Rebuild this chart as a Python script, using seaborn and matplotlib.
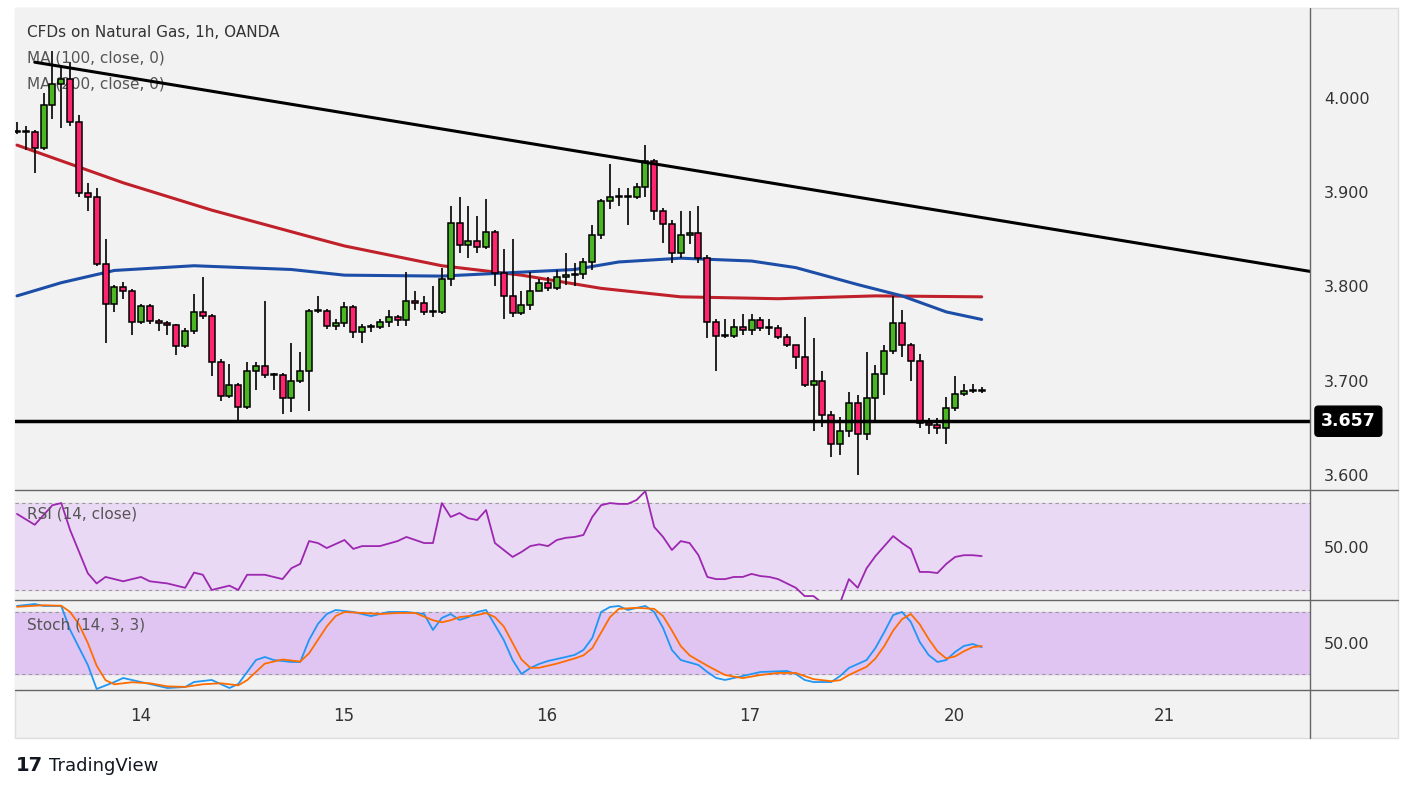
import numpy as np
import pandas as pd
import seaborn as sns
import matplotlib.pyplot as plt
from matplotlib.patches import Rectangle

# hourly candles (index 0..109)
closes = [3.964, 3.964, 3.947, 3.993, 4.015, 4.020, 3.975, 3.899, 3.895, 3.824,
          3.781, 3.799, 3.795, 3.762, 3.779, 3.763, 3.761, 3.759, 3.737, 3.753,
          3.773, 3.769, 3.720, 3.684, 3.695, 3.672, 3.710, 3.716, 3.706, 3.706,
          3.682, 3.700, 3.710, 3.774, 3.774, 3.758, 3.761, 3.778, 3.752, 3.757,
          3.757, 3.762, 3.768, 3.764, 3.785, 3.782, 3.773, 3.773, 3.808, 3.867,
          3.844, 3.848, 3.842, 3.858, 3.814, 3.790, 3.772, 3.780, 3.795, 3.804,
          3.798, 3.810, 3.812, 3.813, 3.826, 3.855, 3.891, 3.895, 3.895, 3.895,
          3.906, 3.933, 3.880, 3.866, 3.836, 3.855, 3.857, 3.830, 3.762, 3.747,
          3.747, 3.757, 3.754, 3.764, 3.756, 3.756, 3.746, 3.738, 3.725, 3.695,
          3.700, 3.664, 3.633, 3.647, 3.676, 3.643, 3.682, 3.707, 3.732, 3.761,
          3.738, 3.721, 3.655, 3.653, 3.650, 3.671, 3.686, 3.689, 3.690, 3.689]
first_open = 3.964
highs = [3.975, 3.970, 3.966, 4.005, 4.050, 4.035, 4.038, 3.982, 3.910, 3.905,
         3.850, 3.802, 3.805, 3.797, 3.781, 3.781, 3.765, 3.763, 3.760, 3.756,
         3.792, 3.810, 3.771, 3.723, 3.718, 3.698, 3.720, 3.720, 3.785, 3.708,
         3.708, 3.740, 3.730, 3.776, 3.790, 3.776, 3.766, 3.783, 3.780, 3.760,
         3.760, 3.766, 3.775, 3.770, 3.815, 3.795, 3.790, 3.800, 3.820, 3.885,
         3.895, 3.885, 3.875, 3.893, 3.860, 3.840, 3.850, 3.795, 3.815, 3.808,
         3.810, 3.818, 3.835, 3.825, 3.830, 3.865, 3.893, 3.930, 3.905, 3.905,
         3.910, 3.950, 3.935, 3.883, 3.870, 3.880, 3.880, 3.885, 3.833, 3.765,
         3.765, 3.765, 3.771, 3.771, 3.768, 3.765, 3.759, 3.750, 3.738, 3.768,
         3.745, 3.710, 3.668, 3.662, 3.688, 3.685, 3.730, 3.717, 3.738, 3.790,
         3.775, 3.740, 3.728, 3.660, 3.660, 3.683, 3.705, 3.696, 3.697, 3.693]
lows = [3.962, 3.945, 3.920, 3.945, 3.978, 3.968, 3.970, 3.895, 3.880, 3.822,
        3.740, 3.773, 3.787, 3.748, 3.760, 3.760, 3.753, 3.748, 3.727, 3.735,
        3.750, 3.766, 3.705, 3.678, 3.682, 3.657, 3.670, 3.690, 3.703, 3.690,
        3.665, 3.667, 3.698, 3.668, 3.772, 3.755, 3.754, 3.757, 3.745, 3.740,
        3.752, 3.755, 3.757, 3.758, 3.758, 3.775, 3.770, 3.768, 3.771, 3.800,
        3.835, 3.830, 3.835, 3.840, 3.800, 3.765, 3.768, 3.770, 3.775, 3.796,
        3.795, 3.796, 3.802, 3.800, 3.808, 3.818, 3.850, 3.882, 3.885, 3.865,
        3.893, 3.895, 3.870, 3.846, 3.825, 3.830, 3.845, 3.825, 3.745, 3.710,
        3.745, 3.745, 3.748, 3.749, 3.753, 3.748, 3.744, 3.736, 3.712, 3.693,
        3.647, 3.651, 3.619, 3.621, 3.640, 3.600, 3.637, 3.655, 3.685, 3.728,
        3.725, 3.700, 3.650, 3.643, 3.643, 3.633, 3.668, 3.684, 3.687, 3.687]

# moving averages sampled along the chart
ma100_idx = [0, 5, 11, 20, 31, 37, 48, 63, 68, 75, 83, 88, 95, 100, 105, 109]
ma100_val = [3.790, 3.804, 3.817, 3.822, 3.818, 3.812, 3.811, 3.818, 3.826, 3.830,
             3.827, 3.820, 3.802, 3.790, 3.773, 3.765]
ma200_idx = [0, 12, 22, 33, 37, 48, 57, 66, 75, 86, 97, 109]
ma200_val = [3.950, 3.910, 3.881, 3.853, 3.843, 3.822, 3.812, 3.798, 3.789, 3.787,
             3.790, 3.789]

trend_idx = [2, 146.1]
trend_val = [4.038, 3.816]
support = 3.657

rsi_idx = [0, 2, 4, 5, 6, 8, 9, 10, 12, 14, 15, 17, 19, 20, 21, 22, 24, 25, 26, 28,
           30, 31, 32, 33, 34, 35, 37, 38, 39, 41, 43, 44, 46, 47, 48, 49, 50, 51, 52, 53,
           54, 55, 56, 57, 58, 59, 60, 61, 62, 63, 64, 65, 66, 67, 68, 69, 70, 71, 72, 73,
           74, 75, 76, 77, 78, 79, 80, 81, 82, 83, 84, 85, 86, 87, 88, 89, 90, 91, 92, 93,
           94, 95, 96, 97, 98, 99, 100, 101, 102, 103, 104, 105, 106, 107, 108, 109]
rsi_val = [65, 60, 69, 70, 57.6, 37.7, 33, 36, 34, 36, 34, 33, 31, 38, 37, 30, 32, 30, 37, 37,
           35, 40, 42, 52.5, 51.6, 49.3, 53, 48.9, 50.2, 50.2, 52.5, 54.4, 51.6, 51.6, 70, 63.6, 65.4, 63, 62.2, 66.8,
           51.6, 48.4, 45.2, 47.5, 50.2, 51, 50.2, 53, 54, 54.4, 55.3, 63.6, 69, 70, 69.6, 69.6, 71.4, 75.5, 59, 54.4,
           48.4, 52.5, 51.6, 46, 36, 35, 35, 36, 36, 37.4, 36.4, 36, 35, 33, 31, 27.2, 27.2, 24, 21, 24,
           35, 31, 40, 45.6, 50.2, 54.8, 51.6, 48.9, 38.3, 38.3, 37.8, 42, 45.2, 46, 46, 45.6]

k_idx = [0, 2, 3, 5, 6, 8, 9, 11, 12, 14, 15, 17, 19, 20, 22, 24, 25, 26, 27, 28,
         29, 31, 32, 33, 34, 35, 36, 38, 40, 42, 44, 46, 47, 48, 49, 50, 51, 52, 53, 54,
         55, 56, 57, 58, 59, 60, 62, 63, 64, 65, 66, 67, 68, 69, 70, 71, 72, 73, 74, 75,
         77, 78, 79, 80, 82, 84, 87, 88, 89, 90, 92, 93, 94, 96, 97, 98, 99, 100, 101, 102,
         103, 104, 105, 106, 107, 108, 109]
k_val = [85.8, 87.7, 85.8, 85.8, 62.6, 28.7, 5.5, 12.2, 16.1, 12.2, 10.3, 6.4, 7.4, 12.2, 14.2, 6.4, 10.3, 21.9, 33.5, 36.4,
         33.5, 31.6, 31.6, 52.9, 68.4, 78, 81.9, 80, 76, 80, 80, 78, 62.6, 74.2, 78, 72.3, 75, 80, 81.9, 67.4,
         52.9, 33.5, 20, 25.8, 29.7, 32.6, 36.4, 38.4, 43.2, 54.8, 80, 84.8, 85.8, 81.9, 83.9, 85.8, 80, 64.5, 43.2, 33.5,
         28.7, 21.9, 16.1, 14.2, 18, 21.9, 22.9, 20, 14.2, 12.2, 12.2, 18, 25.8, 33.5, 45.2, 60.6, 77, 80, 70.3, 51,
         38.4, 31.6, 33.5, 41.3, 47.1, 49, 46]
d_idx = [0, 3, 5, 6, 7, 8, 9, 10, 11, 13, 15, 17, 19, 21, 23, 25, 26, 27, 28, 30,
         32, 33, 34, 35, 36, 37, 39, 41, 43, 45, 47, 48, 49, 50, 52, 53, 54, 55, 56, 57,
         58, 59, 61, 63, 64, 65, 66, 67, 68, 70, 72, 73, 74, 75, 76, 78, 80, 82, 84, 86,
         88, 89, 90, 92, 93, 94, 96, 97, 98, 99, 100, 101, 102, 103, 104, 105, 106, 107, 108, 109]
d_val = [85, 86.5, 86, 80, 68, 50, 28, 14, 10, 12, 11, 8, 7.5, 10, 11, 9, 14, 22, 30, 34,
         32, 40, 53, 66, 76, 80, 79, 78, 79, 79, 72, 70, 72, 75, 77, 79, 75, 66, 50, 34,
         26, 26, 30, 35, 38, 45, 60, 75, 83, 84, 83, 76, 62, 47, 38, 28, 19, 16, 19, 21,
         21, 18, 15, 13, 14, 19, 27, 35, 47, 62, 73, 78, 68, 54, 42, 35, 37, 42, 46, 47]

day_pos = [14.0, 36.9, 59.8, 82.8, 105.9, 129.7]
day_labels = ['14', '15', '16', '17', '20', '21']
price_ticks = [3.6, 3.7, 3.8, 3.9, 4.0]

BG = '#f2f2f2'
UP = '#4cb524'
DOWN = '#ff2470'
SEP = '#666666'
TXT = '#333333'
XMIN, XMAX = -0.23, 146.1

sns.set_theme(style='white')
plt.rcParams['font.family'] = ['DejaVu Sans']

fig = plt.figure(figsize=(14.13, 7.91), dpi=100)
# grey frame behind everything
fig.add_artist(Rectangle((0.0106, 0.067), 0.979, 0.923, transform=fig.transFigure,
                         fc=BG, ec='#dddddd', lw=1, zorder=-10))
ax = fig.add_axes([0.0106, 0.3805, 0.9165, 0.6094])
ax_rsi = fig.add_axes([0.0106, 0.2415, 0.9165, 0.139])
ax_st = fig.add_axes([0.0106, 0.1277, 0.9165, 0.1138])
for yy in (0.3805, 0.2415, 0.1277):
    fig.add_artist(plt.Line2D([0.0106, 0.9894], [yy, yy], color=SEP, lw=1))
fig.add_artist(plt.Line2D([0.927, 0.927], [0.067, 0.99], color=SEP, lw=1))

for a in (ax, ax_rsi, ax_st):
    a.set_facecolor(BG)
    for s in a.spines.values():
        s.set_visible(False)
    a.set_xlim(XMIN, XMAX)
    a.yaxis.tick_right()
    a.tick_params(axis='y', length=0, labelsize=11.5, colors=TXT, pad=10)
    a.tick_params(axis='x', length=0)
    a.set_xticks([])

# candles
opens = [first_open] + closes[:-1]
idx = np.arange(len(closes))
df = pd.DataFrame({'i': idx, 'o': opens, 'c': closes, 'h': highs, 'l': lows})
ax.vlines(df['i'], df['l'], df['h'], color='black', lw=1.2, zorder=3)
bottoms = np.minimum(df['o'], df['c'])
heights = np.maximum(np.abs(df['c'] - df['o']), 0.0012)
cols = [UP if c > o else (DOWN if c < o else 'black') for o, c in zip(df['o'], df['c'])]
ax.bar(df['i'], heights, bottom=bottoms, width=0.68, color=cols, edgecolor='black',
       linewidth=1.1, zorder=4)

sns.lineplot(x=ma200_idx, y=ma200_val, ax=ax, color='#c0202a', lw=2.2, zorder=2)
sns.lineplot(x=ma100_idx, y=ma100_val, ax=ax, color='#1c4ea8', lw=2.2, zorder=2)
ax.plot(trend_idx, trend_val, color='black', lw=2.2, zorder=5)
ax.axhline(support, color='black', lw=2.5, zorder=5)

ax.set_ylim(3.584, 4.0955)
ax.set_yticks(price_ticks)
ax.set_yticklabels([f'{p:.3f}' for p in price_ticks])
ax.text(1.0085, support, f'{support:.3f}', transform=ax.get_yaxis_transform(),
        ha='left', va='center', color='white', fontsize=12.5, fontweight='bold',
        bbox=dict(boxstyle='round,pad=0.35,rounding_size=0.2', fc='black', ec='black'),
        zorder=6)
ax.text(0.0093, 0.95, 'CFDs on Natural Gas, 1h, OANDA', transform=ax.transAxes,
        fontsize=11, color=TXT, va='center')
ax.text(0.0093, 0.897, 'MA (100, close, 0)', transform=ax.transAxes,
        fontsize=11, color='#555555', va='center')
ax.text(0.0093, 0.843, 'MA (200, close, 0)', transform=ax.transAxes,
        fontsize=11, color='#555555', va='center')

# RSI
ax_rsi.set_ylim(25.4, 76)
ax_rsi.axhspan(30, 70, color='#ead9f4', zorder=0)
ax_rsi.axhline(70, color='#999999', lw=0.8, ls=(0, (3, 3)))
ax_rsi.axhline(30, color='#999999', lw=0.8, ls=(0, (3, 3)))
sns.lineplot(x=rsi_idx, y=rsi_val, ax=ax_rsi, color='#9c27b0', lw=1.3)
ax_rsi.set_yticks([50])
ax_rsi.set_yticklabels(['50.00'])
ax_rsi.set_ylabel('')
ax_rsi.text(0.0093, 0.78, 'RSI (14, close)', transform=ax_rsi.transAxes,
            fontsize=11, color='#555555', va='center')

# Stochastic
ax_st.set_ylim(4.5, 91.6)
ax_st.axhspan(20, 80, color='#e0c5f3', zorder=0)
ax_st.axhline(80, color='#999999', lw=0.8, ls=(0, (3, 3)))
ax_st.axhline(20, color='#999999', lw=0.8, ls=(0, (3, 3)))
sns.lineplot(x=k_idx, y=k_val, ax=ax_st, color='#2196f3', lw=1.3)
sns.lineplot(x=d_idx, y=d_val, ax=ax_st, color='#ff6d00', lw=1.3)
ax_st.set_yticks([50])
ax_st.set_yticklabels(['50.00'])
ax_st.set_ylabel('')
ax_st.text(0.0093, 0.72, 'Stoch (14, 3, 3)', transform=ax_st.transAxes,
           fontsize=11, color='#555555', va='center')
ax_st.set_xticks(day_pos)
ax_st.set_xticklabels(day_labels, fontsize=12, color=TXT)
ax_st.tick_params(axis='x', pad=12)

fig.text(0.011, 0.032, '17', fontsize=14, fontweight='heavy', color='#131722', va='center')
fig.text(0.035, 0.032, 'TradingView', fontsize=13, color='#131722', va='center')

fig.savefig('out.png', dpi=100, facecolor='white')
